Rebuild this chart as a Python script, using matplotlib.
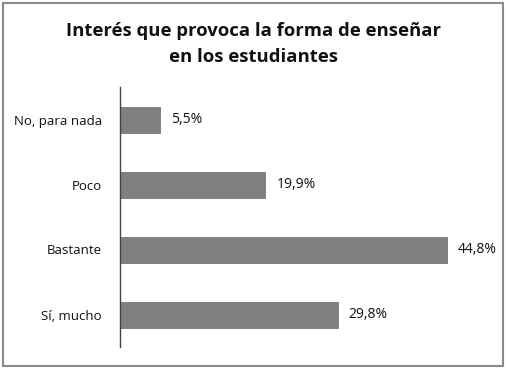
import matplotlib
matplotlib.use('Agg')
import matplotlib.pyplot as plt
from matplotlib.patches import Rectangle

# datos
categorias = ['No, para nada', 'Poco', 'Bastante', 'Sí, mucho']
porcentajes = [5.5, 19.9, 44.8, 29.8]
etiquetas = ['5,5%', '19,9%', '44,8%', '29,8%']
titulo = 'Interés que provoca la forma de enseñar\nen los estudiantes'

plt.rcParams['font.family'] = ['Open Sans', 'DejaVu Sans']

fig = plt.figure(figsize=(5.07, 3.70), dpi=100)
ax = fig.add_axes([120 / 507, 23 / 370, 365 / 507, 260 / 370])

y = range(len(categorias))
ax.barh(y, porcentajes, height=0.4, color='#808080', edgecolor='#777777', linewidth=0.6)

for i, (v, t) in enumerate(zip(porcentajes, etiquetas)):
    ax.annotate(t, (v, i), xytext=(8, 0), textcoords='offset points',
                va='center', ha='left', fontsize=10, color='#111111')

ax.set_yticks(list(y))
ax.set_yticklabels(categorias, fontsize=9.5, color='#111111')
ax.tick_params(axis='y', length=0, pad=13)
ax.set_xticks([])
ax.set_xlim(0, 50)
ax.set_ylim(3.5, -0.5)

for s in ['top', 'right', 'bottom']:
    ax.spines[s].set_visible(False)
ax.spines['left'].set_color('#444444')
ax.spines['left'].set_linewidth(1)

fig.text(0.5, 1 - 44 / 370, titulo, ha='center', va='center', fontsize=13.3,
         fontweight='bold', color='#111111', linespacing=1.55)

# marco exterior
fig.patches.append(Rectangle((3 / 507, 4 / 370), 500 / 507, 363 / 370,
                             transform=fig.transFigure, fill=False,
                             edgecolor='#8a8a8a', linewidth=1.5))

fig.savefig('out.png', dpi=100)
